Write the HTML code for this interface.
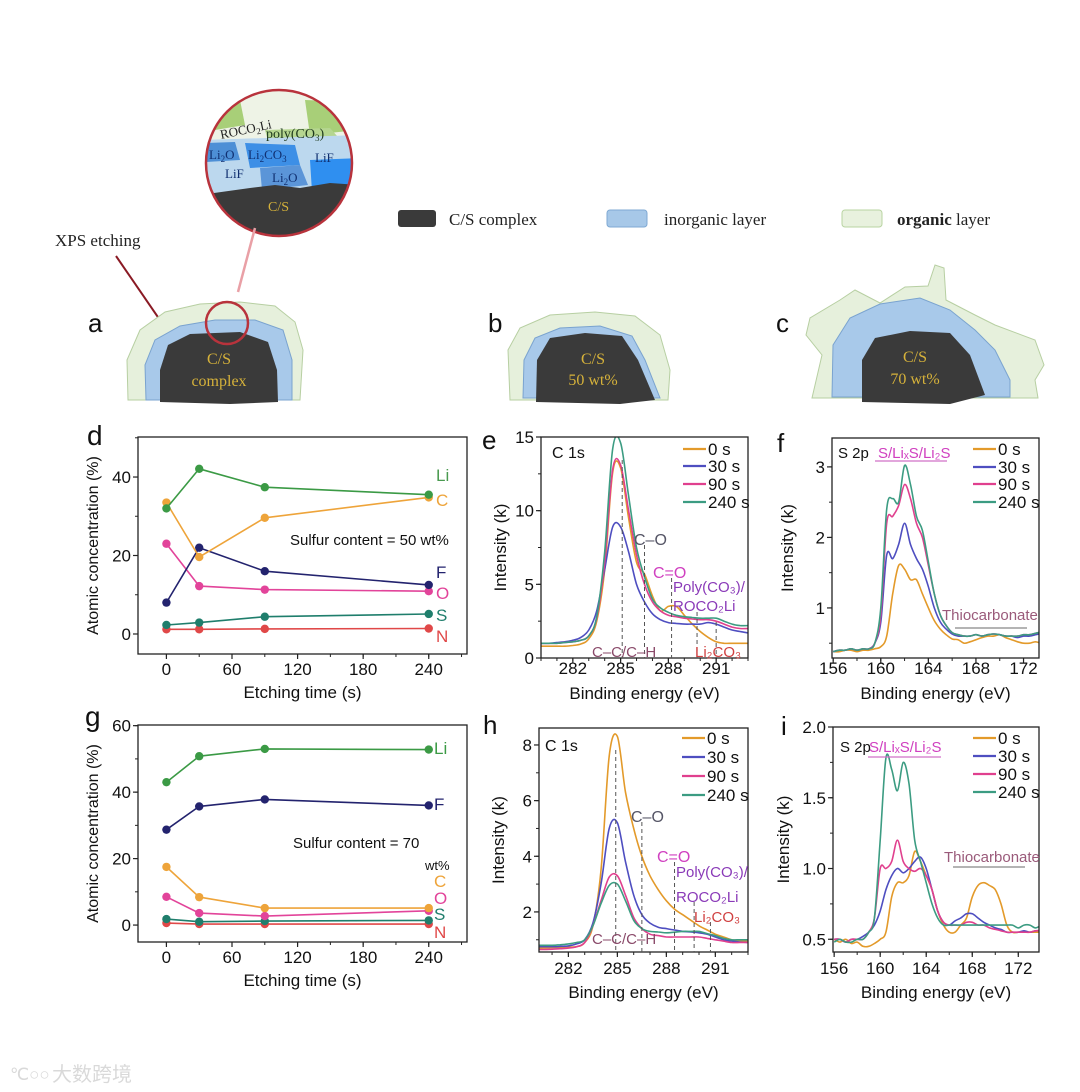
<!DOCTYPE html>
<html><head><meta charset="utf-8">
<style>
html,body{margin:0;padding:0;background:#fff;}
svg{display:block;font-family:"Liberation Sans",sans-serif;}
.ser{font-family:"Liberation Serif",serif;}
</style></head>
<body>
<svg id="fig" width="1080" height="1092" viewBox="0 0 1080 1092" xmlns="http://www.w3.org/2000/svg">
<defs id="defs"><clipPath id="cc"><circle cx="279" cy="163" r="73"/></clipPath></defs>
<g>
  <g clip-path="url(#cc)">
    <rect x="200" y="85" width="160" height="150" fill="#fff"/>
    <path d="M200 90 L360 90 L360 135 L200 140 Z" fill="#eef3e6"/>
    <path d="M205 105 L240 100 L245 125 L215 130 Z" fill="#a8cf78"/>
    <path d="M305 100 L355 102 L358 130 L310 135 Z" fill="#a8cf78"/>
    <path d="M265 130 L330 128 L345 145 L270 148 Z" fill="#b5d690"/>
    <path d="M200 140 L360 135 L360 200 L200 205 Z" fill="#bcd8ee"/>
    <path d="M205 143 L235 142 L240 160 L205 162 Z" fill="#4d8fd6"/>
    <path d="M245 143 L295 145 L300 165 L250 168 Z" fill="#3d8fe6"/>
    <path d="M260 168 L300 165 L308 185 L262 190 Z" fill="#5b95d8"/>
    <path d="M310 160 L360 158 L360 190 L312 192 Z" fill="#2f8ff0"/>
    <path d="M200 195 L250 188 L275 185 L300 188 L330 183 L360 185 L360 240 L200 240 Z" fill="#3a3a3a"/>
  </g>
  <circle cx="279" cy="163" r="73" fill="none" stroke="#b8333c" stroke-width="2.5"/>
  <text x="220" y="136" class="ser" font-size="13" fill="#222" transform="rotate(-12 235 132)">ROCO<tspan font-size="9" dy="3">2</tspan><tspan dy="-3">Li</tspan></text>
  <text x="266" y="138" class="ser" font-size="14" fill="#1e3a1e">poly(CO<tspan font-size="9" dy="3">3</tspan><tspan dy="-3">)</tspan></text>
  <text x="209" y="159" class="ser" font-size="13" fill="#102f70">Li<tspan font-size="9" dy="3">2</tspan><tspan dy="-3">O</tspan></text>
  <text x="248" y="159" class="ser" font-size="13" fill="#102f70">Li<tspan font-size="9" dy="3">2</tspan><tspan dy="-3">CO</tspan><tspan font-size="9" dy="3">3</tspan></text>
  <text x="315" y="162" class="ser" font-size="13" fill="#102f70">LiF</text>
  <text x="225" y="178" class="ser" font-size="13" fill="#102f70">LiF</text>
  <text x="272" y="182" class="ser" font-size="13" fill="#102f70">Li<tspan font-size="9" dy="3">2</tspan><tspan dy="-3">O</tspan></text>
  <text x="268" y="211" class="ser" font-size="14" fill="#d6b23a">C/S</text>
  <line x1="255" y1="228" x2="238" y2="292" stroke="#e9a0a6" stroke-width="2.5"/>
</g>
<text x="55" y="246" class="ser" font-size="17" fill="#222">XPS etching</text>
<line x1="116" y1="256" x2="175" y2="342" stroke="#8a1a24" stroke-width="2"/>
<path d="M175 346 L166 337 L174 334 Z" fill="#8a1a24"/>

<g>
  <rect x="398" y="210" width="38" height="17" rx="3" fill="#3a3a3a"/>
  <text x="449" y="225" class="ser" font-size="17" fill="#222">C/S complex</text>
  <rect x="607" y="210" width="40" height="17" rx="3" fill="#a7c8e8" stroke="#7fa9d3"/>
  <text x="664" y="225" class="ser" font-size="17" fill="#222">inorganic layer</text>
  <rect x="842" y="210" width="40" height="17" rx="3" fill="#e8f1de" stroke="#b9d4a2"/>
  <text x="897" y="225" class="ser" font-size="17" fill="#222"><tspan font-weight="bold">organic</tspan> layer</text>
</g>

<g>
  <text x="88" y="332" font-size="26" fill="#111">a</text>
  <path d="M128 400 L127 360 L140 330 L165 312 L200 304 L240 302 L275 306 L295 322 L303 350 L300 400 Z" fill="#e6f0dc" stroke="#b7cfa2"/>
  <path d="M146 400 L145 365 L155 340 L180 326 L215 320 L255 320 L283 330 L292 360 L292 400 Z" fill="#a8c9ea" stroke="#7aa3cf"/>
  <path d="M160 402 L160 370 L168 345 L190 334 L240 332 L268 342 L277 370 L278 402 L230 404 Z" fill="#3a3a3a"/>
  <circle cx="227" cy="323" r="21" fill="none" stroke="#b8333c" stroke-width="2.5"/>
  <text x="219" y="364" class="ser" font-size="16" fill="#d6b23a" text-anchor="middle">C/S</text>
  <text x="219" y="386" class="ser" font-size="16" fill="#d6b23a" text-anchor="middle">complex</text>
</g>
<g>
  <text x="488" y="332" font-size="26" fill="#111">b</text>
  <path d="M510 400 L508 350 L520 328 L550 315 L595 312 L635 316 L660 335 L670 370 L668 400 Z" fill="#e6f0dc" stroke="#b7cfa2"/>
  <path d="M523 398 L524 360 L535 338 L560 328 L600 326 L632 336 L645 360 L660 398 Z" fill="#a8c9ea" stroke="#7aa3cf"/>
  <path d="M536 402 L537 360 L550 338 L585 333 L622 336 L638 360 L655 400 L620 404 Z" fill="#3a3a3a"/>
  <text x="593" y="364" class="ser" font-size="16" fill="#d6b23a" text-anchor="middle">C/S</text>
  <text x="593" y="385" class="ser" font-size="16" fill="#d6b23a" text-anchor="middle">50 wt%</text>
</g>
<g>
  <text x="776" y="332" font-size="26" fill="#111">c</text>
  <path d="M812 398 L822 355 L806 335 L810 318 L840 300 L855 290 L880 303 L905 287 L928 286 L935 265 L944 268 L946 300 L975 315 L995 325 L1035 340 L1044 365 L1035 380 L1038 398 Z" fill="#e6f0dc" stroke="#b7cfa2"/>
  <path d="M832 397 L833 345 L850 318 L880 304 L920 298 L950 310 L975 330 L995 350 L1010 380 L1010 397 Z" fill="#a8c9ea" stroke="#7aa3cf"/>
  <path d="M862 402 L862 360 L875 338 L910 331 L950 333 L970 355 L985 395 L950 404 Z" fill="#3a3a3a"/>
  <text x="915" y="362" class="ser" font-size="16" fill="#d6b23a" text-anchor="middle">C/S</text>
  <text x="915" y="384" class="ser" font-size="16" fill="#d6b23a" text-anchor="middle">70 wt%</text>
</g>

<text x="87" y="445" font-size="28" fill="#111">d</text>
<text x="482" y="449" font-size="26" fill="#111">e</text>
<text x="777" y="452" font-size="26" fill="#111">f</text>
<text x="85" y="726" font-size="28" fill="#111">g</text>
<text x="483" y="734" font-size="26" fill="#111">h</text>
<text x="781" y="735" font-size="26" fill="#111">i</text>

<g id="charts"></g>

<g opacity="0.55">
  <text x="10" y="1080" font-size="17" fill="#bbb">℃○○</text>
  <text x="52" y="1081" font-size="20" fill="#bbb" font-family="'Noto Sans CJK SC',sans-serif">大数跨境</text>
</g>
</svg>

<script>
// ---------- Data: panel d (50 wt%) ----------
const etchTimes = [0, 30, 90, 240];
const dLi = [32, 42.1, 37.4, 35.5];
const dC  = [33.5, 19.6, 29.6, 34.8];
const dF  = [8, 22, 16, 12.5];
const dO  = [23, 12.2, 11.3, 10.9];
const dS  = [2.3, 2.9, 4.4, 5.1];
const dN  = [1.2, 1.2, 1.3, 1.4];
// ---------- Data: panel g (70 wt%) ----------
const gLi = [43, 50.8, 53, 52.8];
const gF  = [28.7, 35.7, 37.8, 36];
const gC  = [17.5, 8.4, 5.1, 5.1];
const gO  = [8.5, 3.6, 2.7, 4.3];
const gS  = [1.8, 1.0, 1.2, 1.4];
const gN  = [0.6, 0.3, 0.3, 0.3];
const etchTicks = [0, 60, 120, 180, 240];
const dYTicks = [0, 20, 40];
const gYTicks = [0, 20, 40, 60];
// ---------- Data: C 1s ----------
const c1sEnergy = [280,280.5,281,281.5,282,282.5,283,283.5,284,284.5,285,285.5,286,286.5,287,287.5,288,288.5,289,289.5,290,290.5,291,291.5,292,292.5,293];
const e0s   = [0.8,0.8,0.8,0.8,0.85,0.95,1.3,2.5,6,12.6,12.9,9.5,6.5,5.7,4.2,3.2,3.5,3.5,2.9,2.3,1.8,1.4,1.1,1.0,1.0,1.0,1.0];
const e30s  = [1.0,1.0,1.05,1.1,1.2,1.4,1.9,3.2,6.0,8.9,8.9,7.2,5.0,3.8,3.0,2.6,2.4,2.35,2.3,2.3,2.3,2.4,2.3,2.1,1.9,1.8,1.7];
const e90s  = [1.0,1.0,1.0,1.05,1.1,1.2,1.5,2.7,6.5,12.8,13.1,10,7,5,3.8,3.2,2.9,2.8,2.7,2.65,2.6,2.6,2.5,2.3,2.1,2.0,2.0];
const e240s = [1.0,1.0,1.0,1.05,1.1,1.2,1.5,2.8,7.2,14.2,14.6,11,7.5,5.5,4.0,3.4,3.1,2.9,2.8,2.75,2.7,2.7,2.7,2.5,2.3,2.2,2.2];
const h0s   = [0.7,0.7,0.72,0.72,0.74,0.75,0.9,1.5,3.5,7.6,8.3,6.3,5.0,4.0,3.3,2.8,2.4,2.1,1.9,1.7,1.5,1.35,1.2,1.1,1.0,0.97,0.95];
const h30s  = [0.75,0.75,0.75,0.76,0.78,0.85,1.0,1.6,3.0,5.0,5.2,3.8,2.6,1.9,1.6,1.45,1.4,1.35,1.3,1.28,1.25,1.2,1.1,1.0,0.95,0.92,0.9];
const h90s  = [0.65,0.65,0.66,0.68,0.7,0.75,0.9,1.5,2.4,3.25,3.3,2.6,1.8,1.4,1.2,1.15,1.1,1.1,1.1,1.1,1.1,1.05,1.0,0.95,0.9,0.9,0.9];
const h240s = [0.8,0.8,0.8,0.82,0.85,0.9,1.0,1.5,2.3,2.95,3.0,2.4,1.7,1.4,1.3,1.28,1.25,1.27,1.3,1.3,1.3,1.22,1.15,1.05,1.0,1.0,1.0];
const c1sTicks = [282, 285, 288, 291];
// ---------- Data: S 2p ----------
const s2pEnergy = [156,156.5,157,157.5,158,158.5,159,159.5,160,160.5,161,161.5,162,162.5,163,163.5,164,164.5,165,165.5,166,166.5,167,167.5,168,168.5,169,169.5,170,170.5,171,171.5,172,172.5,173,173.5,174];
const f0s   = [0.38,0.38,0.4,0.4,0.38,0.4,0.4,0.42,0.45,0.6,1.2,1.6,1.55,1.4,1.4,1.2,1.0,0.82,0.7,0.62,0.56,0.55,0.5,0.52,0.55,0.58,0.6,0.6,0.62,0.58,0.55,0.52,0.5,0.5,0.52,0.5,0.5];
const f30s  = [0.38,0.4,0.4,0.42,0.4,0.42,0.42,0.5,0.8,1.75,1.7,1.9,2.2,1.9,1.7,1.55,1.3,1.0,0.8,0.7,0.63,0.6,0.6,0.6,0.62,0.6,0.62,0.63,0.62,0.6,0.6,0.58,0.6,0.6,0.62,0.64,0.66];
const f90s  = [0.38,0.4,0.4,0.42,0.4,0.42,0.42,0.5,0.9,2.2,2.3,2.45,2.75,2.55,2.2,2.0,1.6,1.2,0.9,0.75,0.65,0.62,0.6,0.6,0.62,0.6,0.62,0.63,0.62,0.6,0.6,0.6,0.62,0.62,0.64,0.66,0.68];
const f240s = [0.38,0.4,0.4,0.42,0.4,0.42,0.42,0.5,1.0,2.4,2.55,2.5,3.02,2.75,2.3,2.1,1.65,1.2,0.9,0.75,0.65,0.62,0.6,0.6,0.62,0.6,0.62,0.63,0.62,0.6,0.6,0.6,0.62,0.62,0.64,0.66,0.68];
const i0s   = [0.5,0.48,0.5,0.47,0.48,0.45,0.45,0.47,0.5,0.55,0.8,0.9,0.9,0.95,1.12,1.05,0.95,0.85,0.7,0.6,0.55,0.55,0.6,0.65,0.8,0.88,0.9,0.88,0.85,0.75,0.6,0.55,0.55,0.55,0.55,0.55,0.55];
const i30s  = [0.5,0.5,0.48,0.5,0.5,0.52,0.55,0.6,0.7,0.85,0.95,1.0,0.97,1.0,1.05,1.08,1.0,0.85,0.7,0.62,0.6,0.63,0.65,0.68,0.68,0.65,0.62,0.6,0.58,0.57,0.55,0.55,0.55,0.56,0.55,0.56,0.56];
const i90s  = [0.5,0.5,0.48,0.5,0.5,0.5,0.55,0.65,1.0,1.0,1.05,1.2,1.05,1.0,0.98,1.0,0.95,0.85,0.7,0.62,0.6,0.6,0.6,0.62,0.62,0.6,0.6,0.58,0.57,0.56,0.55,0.55,0.55,0.55,0.55,0.56,0.56];
const i240s = [0.48,0.5,0.48,0.48,0.5,0.5,0.55,0.65,1.2,1.78,1.7,1.55,1.75,1.6,1.2,1.05,0.9,0.75,0.65,0.6,0.6,0.6,0.6,0.6,0.6,0.6,0.6,0.6,0.6,0.6,0.6,0.6,0.58,0.6,0.6,0.58,0.6];
const s2pTicks = [156, 160, 164, 168, 172];
const eYTicks = [0, 5, 10, 15];
const fYTicks = [1, 2, 3];
const hYTicks = [2, 4, 6, 8];
const iYTicks = [0.5, 1.0, 1.5, 2.0];
const legendLabels = ['0 s', '30 s', '90 s', '240 s'];

const NS = 'http://www.w3.org/2000/svg';
const root = document.getElementById('charts');
const defs = document.getElementById('defs');
function el(tag, attrs, parent) {
  const e = document.createElementNS(NS, tag);
  for (const k in attrs) e.setAttribute(k, attrs[k]);
  (parent || root).appendChild(e);
  return e;
}
function txt(x, y, s, size, fill, anchor, parent) {
  const t = el('text', {x: x, y: y, 'font-size': size, fill: fill || '#111', 'text-anchor': anchor || 'start'}, parent);
  t.textContent = s;
  return t;
}
function makeAxes(name, box, dom, xt, yt, xMinorStep, yMinorStep, xTitle, yTitle, o) {
  const g = el('g', {});
  
  
  const sx = v => box.x0 + (v - dom.xmin) / (dom.xmax - dom.xmin) * (box.x1 - box.x0);
  const sy = v => box.y1 - (v - dom.ymin) / (dom.ymax - dom.ymin) * (box.y1 - box.y0);
  const cp = el('clipPath', {id: 'clip-' + name}, defs);
  el('rect', {x: box.x0, y: box.y0, width: box.x1 - box.x0, height: box.y1 - box.y0}, cp);
  const plot = el('g', {'clip-path': 'url(#clip-' + name + ')'}, g);
  
  
  const fr = el('rect', {x: box.x0, y: box.y0, width: box.x1 - box.x0, height: box.y1 - box.y0, fill: 'none', stroke: '#222', 'stroke-width': 1.3}, g);
  
  
  for (let v = Math.ceil(dom.xmin / xMinorStep) * xMinorStep; v <= dom.xmax; v += xMinorStep) {
    el('line', {x1: sx(v), x2: sx(v), y1: box.y1, y2: box.y1 + 3, stroke: '#222', 'stroke-width': 1}, g);
  }
  xt.forEach(v => {
    el('line', {x1: sx(v), x2: sx(v), y1: box.y1, y2: box.y1 + 5, stroke: '#222', 'stroke-width': 1.2}, g);
    const t = txt(sx(v), box.y1 + o.tickDy, String(v), 17, '#111', 'middle', g);
    
    
  });
  for (let v = Math.ceil(dom.ymin / yMinorStep) * yMinorStep; v <= dom.ymax + 1e-9; v += yMinorStep) {
    el('line', {x1: box.x0 - 3, x2: box.x0, y1: sy(v), y2: sy(v), stroke: '#222', 'stroke-width': 1}, g);
  }
  yt.forEach(v => {
    el('line', {x1: box.x0 - 5, x2: box.x0, y1: sy(v), y2: sy(v), stroke: '#222', 'stroke-width': 1.2}, g);
    const t = txt(box.x0 - 7, sy(v) + 6, o.yFmt ? o.yFmt(v) : String(v), 17, '#111', 'end', g);
    
    
  });
  const xtT = txt((box.x0 + box.x1) / 2, box.y1 + o.titleDy, xTitle, 17, '#111', 'middle', g);
  
  
  const yx = box.x0 - o.yOff + 6;
  const ytT = txt(yx, (box.y0 + box.y1) / 2, yTitle, o.yTitleSize || 17, '#111', 'middle', g);
  ytT.setAttribute('transform', 'rotate(-90 ' + yx + ' ' + (box.y0 + box.y1) / 2 + ')');
  
  
  return {g, plot, sx, sy, ymin0: dom.ymin};
}
function lineSeries(ax, xs, ys, color, name, dots, w, smooth) {
  const P = xs.map((x, i) => [ax.sx(x), ax.sy(ys[i])]);
  let d = 'M' + P[0][0].toFixed(1) + ' ' + P[0][1].toFixed(1);
  for (let i = 1; i < P.length; i++) {
    if (smooth) {
      const p0 = P[Math.max(0, i - 2)], p1 = P[i - 1], p2 = P[i], p3 = P[Math.min(P.length - 1, i + 1)];
      const c1 = [p1[0] + (p2[0] - p0[0]) / 6, p1[1] + (p2[1] - p0[1]) / 6];
      const c2 = [p2[0] - (p3[0] - p1[0]) / 6, p2[1] - (p3[1] - p1[1]) / 6];
      d += ' C' + c1[0].toFixed(1) + ' ' + c1[1].toFixed(1) + ' ' + c2[0].toFixed(1) + ' ' + c2[1].toFixed(1) + ' ' + p2[0].toFixed(1) + ' ' + p2[1].toFixed(1);
    } else d += ' L' + P[i][0].toFixed(1) + ' ' + P[i][1].toFixed(1);
  }
  const target = smooth ? ax.plot : ax.g;
  const p = el('path', {d: d, fill: 'none', stroke: color, 'stroke-width': w || 1.6, 'stroke-linejoin': 'round'}, target);
  
  
  if (dots) xs.forEach((x, i) => {
    const c = el('circle', {cx: ax.sx(x), cy: ax.sy(ys[i]), r: 4.2, fill: color}, ax.g);
    
    
  });
}
function dashV(ax, x, yTop) {
  const l = el('line', {x1: ax.sx(x), x2: ax.sx(x), y1: yTop, y2: ax.sy(ax.ymin0), stroke: '#555', 'stroke-width': 1, 'stroke-dasharray': '4 3'}, ax.g);
  
  
}
function legend(ax, x, ys, colors) {
  legendLabels.forEach((s, i) => {
    const l = el('line', {x1: x, x2: x + 23, y1: ys[i], y2: ys[i], stroke: colors[i], 'stroke-width': 2.2}, ax.g);
    
    
    const t = txt(x + 25, ys[i] + 6, s, 17, '#111', 'start', ax.g);
    
    
  });
}
const cOr = '#e39a2a', cBl = '#4e4ec0', cPk = '#e0408e', cTl = '#3c9c82';
const spColors = [cOr, cBl, cPk, cTl];
const elColors = {Li: '#3b9a45', C: '#eea43a', F: '#23236e', O: '#e2449a', S: '#1f7e6c', N: '#e04848'};
const dOpts = {tickDy: 21, titleDy: 44, yOff: 46, yTitleSize: 16};

// Panel d
const axD = makeAxes('chart-d', {x0: 138, x1: 467, y0: 437, y1: 654}, {xmin: -26, xmax: 275, ymin: -5.1, ymax: 50.2}, etchTicks, dYTicks, 30, 10, 'Etching time (s)', 'Atomic concentration (%)', dOpts);
[['N', dN], ['S', dS], ['O', dO], ['F', dF], ['C', dC], ['Li', dLi]].forEach(([k, v]) => lineSeries(axD, etchTimes, v, elColors[k], 'series-' + k.toLowerCase(), true));
[['Li', 481, '#4a9a50'], ['C', 506], ['F', 578], ['O', 599], ['S', 621], ['N', 642]].forEach(([k, y, c]) => { const t = txt(436, y, k, 17, c || elColors[k], 'start', axD.g);   });
txt(290, 545, 'Sulfur content = 50 wt%', 15, '#111', 'start', axD.g);

// Panel g
const axG = makeAxes('chart-g', {x0: 138, x1: 467, y0: 725, y1: 942}, {xmin: -26, xmax: 275, ymin: -5.1, ymax: 60.2}, etchTicks, gYTicks, 30, 10, 'Etching time (s)', 'Atomic concentration (%)', dOpts);
[['N', gN], ['S', gS], ['O', gO], ['C', gC], ['F', gF], ['Li', gLi]].forEach(([k, v]) => lineSeries(axG, etchTimes, v, elColors[k], 'series-' + k.toLowerCase(), true));
[['Li', 754, '#3b9a45'], ['F', 810], ['C', 887], ['O', 904], ['S', 920], ['N', 938]].forEach(([k, y, c]) => { const t = txt(434, y, k, 17, c || elColors[k], 'start', axG.g);   });
txt(293, 848, 'Sulfur content = 70', 15, '#111', 'start', axG.g);
txt(425, 870, 'wt%', 13, '#111', 'start', axG.g);

function spectrum(name, box, dom, xt, yt, xminor, yminor, E, series, o) {
  const ax = makeAxes(name, box, dom, xt, yt, xminor, yminor, 'Binding energy (eV)', 'Intensity (k)', o);
  series.forEach((s, i) => lineSeries(ax, E, s, spColors[i], 'series-' + legendLabels[i].replace(' ', ''), false, 1.6, true));
  return ax;
}
// Panel e
const axE = spectrum('chart-e', {x0: 541, x1: 748, y0: 437, y1: 658}, {xmin: 280, xmax: 293, ymin: 0, ymax: 15}, c1sTicks, eYTicks, 1, 2.5, c1sEnergy, [e0s, e30s, e90s, e240s], {tickDy: 16, titleDy: 41, yOff: 41});
dashV(axE, 285.1, 460); dashV(axE, 286.5, 545); dashV(axE, 288.2, 578); dashV(axE, 289.8, 612); dashV(axE, 291, 622);
txt(552, 458, 'C 1s', 16, '#111', 'start', axE.g);
legend(axE, 683, [449, 466, 484, 502], spColors);
txt(634, 545, 'C–O', 16, '#556', 'start', axE.g);
txt(653, 578, 'C=O', 16, '#d040c0', 'start', axE.g);
txt(673, 592, 'Poly(CO₃)/', 15, '#8a3ab8', 'start', axE.g);
txt(673, 611, 'ROCO₂Li', 15, '#8a3ab8', 'start', axE.g);
txt(592, 657, 'C–C/C–H', 15, '#8a4a6a', 'start', axE.g);
txt(695, 657, 'Li₂CO₃', 15, '#d04040', 'start', axE.g);

// Panel f
const axF = spectrum('chart-f', {x0: 832, x1: 1039, y0: 438, y1: 658}, {xmin: 155.9, xmax: 173.3, ymin: 0.29, ymax: 3.41}, s2pTicks, fYTicks, 2, 0.5, s2pEnergy, [f0s, f30s, f90s, f240s], {tickDy: 16, titleDy: 41, yOff: 45});
txt(838, 458, 'S 2p', 15, '#111', 'start', axF.g);
txt(878, 458, 'S/LiₓS/Li₂S', 15, '#d040c0', 'start', axF.g);
el('line', {x1: 875, x2: 947, y1: 461, y2: 461, stroke: '#d070c8', 'stroke-width': 1.2}, axF.g);
legend(axF, 973, [449, 467, 484, 502], spColors);
txt(942, 620, 'Thiocarbonate', 15, '#9a5a7a', 'start', axF.g);
el('line', {x1: 955, x2: 1027, y1: 628, y2: 628, stroke: '#888', 'stroke-width': 1.2}, axF.g);

// Panel h
const axH = spectrum('chart-h', {x0: 539, x1: 748, y0: 728, y1: 952}, {xmin: 280.2, xmax: 293, ymin: 0.56, ymax: 8.61}, c1sTicks, hYTicks, 1, 1, c1sEnergy, [h0s, h30s, h90s, h240s], {tickDy: 22, titleDy: 46, yOff: 41});
dashV(axH, 284.9, 750); dashV(axH, 286.5, 822); dashV(axH, 288.5, 862); dashV(axH, 289.7, 902); dashV(axH, 290.7, 922);
txt(545, 751, 'C 1s', 16, '#111', 'start', axH.g);
legend(axH, 682, [738, 757, 776, 795], spColors);
txt(631, 822, 'C–O', 16, '#556', 'start', axH.g);
txt(657, 862, 'C=O', 16, '#d040c0', 'start', axH.g);
txt(676, 877, 'Poly(CO₃)/', 15, '#8a3ab8', 'start', axH.g);
txt(676, 902, 'ROCO₂Li', 15, '#8a3ab8', 'start', axH.g);
txt(694, 922, 'Li₂CO₃', 15, '#d04040', 'start', axH.g);
txt(592, 944, 'C–C/C–H', 15, '#8a4a6a', 'start', axH.g);

// Panel i
const axI = spectrum('chart-i', {x0: 833, x1: 1039, y0: 727, y1: 952}, {xmin: 155.9, xmax: 173.8, ymin: 0.41, ymax: 2.0}, s2pTicks, iYTicks, 2, 0.25, s2pEnergy, [i0s, i30s, i90s, i240s], {tickDy: 22, titleDy: 46, yOff: 50, yFmt: v => v.toFixed(1)});
txt(840, 752, 'S 2p', 15, '#111', 'start', axI.g);
txt(869, 752, 'S/LiₓS/Li₂S', 15, '#d040c0', 'start', axI.g);
el('line', {x1: 868, x2: 941, y1: 757, y2: 757, stroke: '#d070c8', 'stroke-width': 1.2}, axI.g);
legend(axI, 973, [738, 756, 774, 792], spColors);
txt(944, 862, 'Thiocarbonate', 15, '#9a5a7a', 'start', axI.g);
el('line', {x1: 953, x2: 1025, y1: 867, y2: 867, stroke: '#888', 'stroke-width': 1.2}, axI.g);
</script>
</body></html>
